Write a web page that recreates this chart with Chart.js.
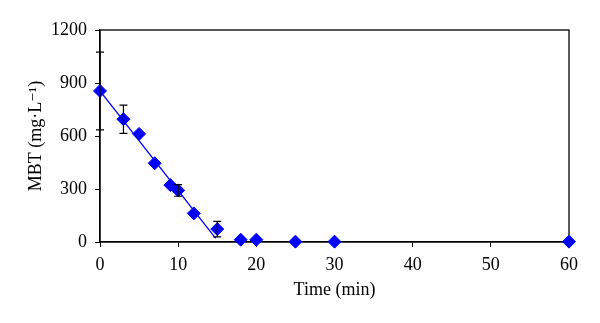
<!DOCTYPE html>
<html>
<head>
<meta charset="utf-8">
<script src="https://cdn.jsdelivr.net/npm/chart.js@4/dist/chart.umd.min.js"></script>
<style>
  html, body { margin: 0; padding: 0; background: #fff; }
  #wrap { width: 600px; height: 323px; }
</style>
</head>
<body>
<div id="wrap"><canvas id="mbtChart"></canvas></div>
<script>
// 측정 데이터
const timeMin = [0, 3, 5, 7, 9, 10, 12, 15, 18, 20, 25, 30, 60];
const mbtValues = [855, 695, 612, 446, 322, 292, 162, 73, 13, 13, 2, 2, 2];
const mbtErrors = [220, 80, 0, 0, 0, 33, 0, 44, 0, 0, 0, 0, 0];

// 선형 구간
const fitX = [0, 14.8];
const fitY = [855, 20];

const xTicks = [0, 10, 20, 30, 40, 50, 60];
const yTicks = [0, 300, 600, 900, 1200];

const FONT = "'Liberation Serif', 'DejaVu Serif', serif";

// 오차 막대
const errorBars = {
    id: 'errorBars',
    afterDatasetsDraw(chart) {
        const ctx = chart.ctx;
        const x = chart.scales.x, y = chart.scales.y;
        ctx.save();
        ctx.strokeStyle = '#000';
        ctx.lineWidth = 1.2;
        timeMin.forEach((t, i) => {
            const e = mbtErrors[i];
            if (!e) return;
            const px = x.getPixelForValue(t);
            const top = y.getPixelForValue(mbtValues[i] + e);
            const bot = y.getPixelForValue(mbtValues[i] - e);
            ctx.beginPath();
            ctx.moveTo(px, top); ctx.lineTo(px, bot);
            ctx.moveTo(px - 4, top); ctx.lineTo(px + 4, top);
            ctx.moveTo(px - 4, bot); ctx.lineTo(px + 4, bot);
            ctx.stroke();
        });
        ctx.restore();
    }
};

// 테두리 상자
const frameBox = {
    id: 'frameBox',
    beforeDatasetsDraw(chart) {
        const a = chart.chartArea;
        const ctx = chart.ctx;
        ctx.save();
        ctx.strokeStyle = '#000';
        ctx.lineWidth = 1.3;
        ctx.strokeRect(a.left, a.top, a.right - a.left, a.bottom - a.top);
        ctx.restore();
    }
};

new Chart(document.getElementById('mbtChart'), {
    type: 'scatter',
    data: {
        datasets: [{
            label: 'MBT',
            data: timeMin.map((t, i) => ({ x: t, y: mbtValues[i] })),
            backgroundColor: '#0000ff',
            borderColor: '#0000ff',
            borderWidth: 1,
            pointStyle: 'rectRot',
            pointRadius: 6.5,
            clip: false
        }, {
            type: 'line',
            label: 'fit',
            data: fitX.map((t, i) => ({ x: t, y: fitY[i] })),
            borderColor: '#0000ff',
            borderWidth: 1.3,
            pointRadius: 0,
            fill: false
        }]
    },
    options: {
        responsive: true,
        maintainAspectRatio: false,
        animation: false,
        layout: { padding: { left: 21, top: 30, right: 31, bottom: 18 } },
        plugins: {
            legend: { display: false },
            tooltip: { enabled: false }
        },
        scales: {
            x: {
                type: 'linear',
                min: 0, max: 60,
                afterBuildTicks: s => { s.ticks = xTicks.map(v => ({ value: v })); },
                afterFit: s => { s.height = 63; },
                border: { display: true, color: '#000', width: 1.3 },
                grid: { drawOnChartArea: false, drawTicks: true, tickLength: 5, color: '#000' },
                ticks: { color: '#000', font: { family: FONT, size: 18 }, padding: 7, maxRotation: 0, callback: v => String(v) },
                title: { display: true, text: 'Time (min)', color: '#000', font: { family: FONT, size: 18 }, padding: { top: 2 } }
            },
            y: {
                min: 0, max: 1200,
                afterBuildTicks: s => { s.ticks = yTicks.map(v => ({ value: v })); },
                afterFit: s => { s.width = 79; },
                border: { display: true, color: '#000', width: 1.3 },
                grid: { drawOnChartArea: false, drawTicks: true, tickLength: 5, color: '#000' },
                ticks: { color: '#000', font: { family: FONT, size: 18 }, padding: 8, callback: v => String(v) },
                title: { display: true, text: 'MBT (mg·L⁻¹)', color: '#000', font: { family: FONT, size: 18 }, padding: { bottom: 4 } }
            }
        }
    },
    plugins: [frameBox, errorBars]
});
</script>
</body>
</html>
